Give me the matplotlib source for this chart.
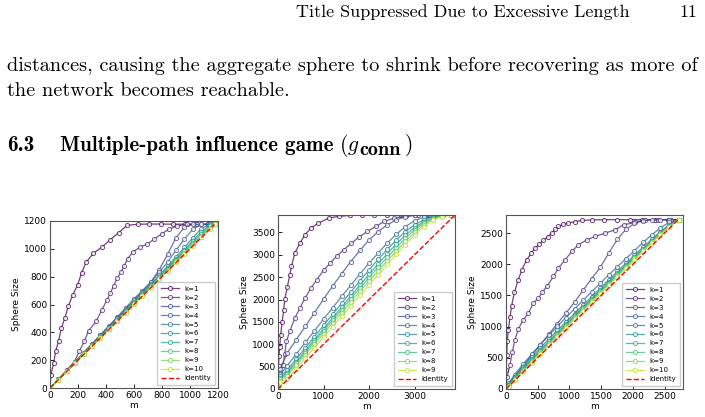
import matplotlib
matplotlib.use("Agg")
import matplotlib.pyplot as plt
import numpy as np

plt.rcParams['mathtext.fontset'] = 'cm'

# ---------------- data ----------------
# panel 1 (N ~ 1175)
p1_k1_m = [0, 7, 26, 40, 62, 81, 107, 131, 162, 197, 226, 257, 309, 368, 432, 492, 551, 630, 708, 796, 879, 962, 1046, 1129, 1170]
p1_k1_y = [0, 95, 179, 263, 341, 430, 506, 589, 668, 740, 828, 902, 967, 1010, 1067, 1117, 1169, 1177, 1178, 1178, 1177, 1177, 1177, 1177, 1177]
p1_k2_m = [0, 60, 120, 175, 210, 245, 275, 330, 370, 405, 430, 455, 480, 505, 530, 555, 590, 640, 695, 745, 800, 850, 905, 975, 1050, 1130, 1170]
p1_k2_y = [0, 62, 128, 190, 265, 335, 410, 480, 560, 630, 680, 735, 790, 830, 880, 930, 975, 1010, 1035, 1070, 1110, 1140, 1165, 1175, 1177, 1177, 1177]
p1_m = [0, 60, 120, 180, 240, 300, 360, 420, 480, 540, 600, 660, 720, 780, 840, 900, 960, 1020, 1080, 1140, 1175]
p1_k3 = [0, 63, 127, 190, 254, 318, 382, 446, 510, 575, 640, 700, 760, 850, 960, 1080, 1155, 1175, 1175, 1175, 1175]
p1_k4 = [0, 63, 126, 189, 252, 315, 378, 441, 504, 567, 630, 693, 760, 830, 905, 990, 1070, 1140, 1175, 1175, 1175]
p1_k5 = [0, 62, 124, 186, 248, 310, 372, 434, 496, 558, 620, 683, 746, 810, 875, 942, 1010, 1080, 1145, 1175, 1175]
p1_k6 = [0, 61, 123, 184, 246, 307, 369, 430, 492, 553, 615, 677, 739, 801, 864, 928, 993, 1058, 1122, 1170, 1175]
p1_k7 = [0, 61, 122, 183, 244, 305, 366, 427, 488, 549, 610, 671, 733, 795, 857, 919, 981, 1044, 1106, 1163, 1175]
p1_k8 = [0, 61, 121, 182, 242, 303, 363, 424, 485, 545, 606, 666, 727, 788, 849, 910, 971, 1032, 1093, 1153, 1175]
p1_k9 = [0, 60, 121, 181, 241, 302, 362, 422, 482, 543, 603, 663, 724, 784, 844, 905, 965, 1025, 1086, 1146, 1175]
p1_k10 = [0, 60, 120, 181, 241, 301, 361, 421, 481, 541, 601, 661, 722, 782, 842, 902, 962, 1022, 1082, 1142, 1175]
p1_N = 1175

# panel 2 (N ~ 3890)
p2_k1_m = [0, 5, 12, 22, 37, 59, 89, 126, 150, 207, 259, 296, 370, 481, 593, 726, 889, 1111, 1333, 1593, 1852, 2100, 2400, 2700, 3000, 3300, 3600, 3890]
p2_k1_y = [0, 300, 520, 730, 950, 1210, 1490, 1770, 2010, 2290, 2550, 2740, 3040, 3260, 3450, 3600, 3710, 3820, 3860, 3880, 3890, 3890, 3890, 3890, 3890, 3890, 3890, 3890]
p2_k2_m = [0, 20, 50, 111, 148, 185, 259, 370, 481, 593, 726, 852, 1000, 1148, 1296, 1444, 1615, 1778, 1963, 2148, 2333, 2556, 2815, 3074, 3350, 3620, 3890]
p2_k2_y = [0, 200, 380, 543, 789, 1065, 1288, 1586, 1809, 2033, 2256, 2442, 2651, 2815, 2978, 3112, 3261, 3395, 3522, 3634, 3745, 3820, 3872, 3890, 3890, 3890, 3890]
p2_m = [0, 50, 200, 400, 600, 800, 1000, 1200, 1400, 1600, 1800, 2000, 2200, 2400, 2600, 2800, 3000, 3200, 3400, 3600, 3800, 3890]
p2_k3 = [0, 450, 800, 1100, 1400, 1700, 2010, 2300, 2580, 2850, 3100, 3330, 3520, 3670, 3780, 3850, 3880, 3890, 3890, 3890, 3890, 3890]
p2_k4 = [0, 330, 520, 780, 1040, 1300, 1560, 1815, 2070, 2320, 2570, 2810, 3040, 3260, 3460, 3630, 3760, 3840, 3880, 3890, 3890, 3890]
p2_k5 = [0, 280, 420, 670, 920, 1170, 1420, 1670, 1920, 2170, 2420, 2660, 2900, 3120, 3330, 3520, 3670, 3780, 3850, 3885, 3890, 3890]
p2_k6 = [0, 250, 368, 612, 856, 1100, 1344, 1588, 1832, 2076, 2320, 2560, 2795, 3020, 3240, 3440, 3610, 3740, 3830, 3875, 3890, 3890]
p2_k7 = [0, 220, 335, 575, 815, 1055, 1295, 1535, 1775, 2015, 2255, 2490, 2720, 2945, 3160, 3370, 3560, 3710, 3810, 3870, 3890, 3890]
p2_k8 = [0, 190, 293, 529, 765, 1001, 1237, 1473, 1709, 1945, 2180, 2410, 2640, 2865, 3085, 3300, 3500, 3670, 3790, 3860, 3890, 3890]
p2_k9 = [0, 150, 222, 456, 690, 924, 1158, 1392, 1626, 1860, 2094, 2325, 2555, 2785, 3010, 3230, 3440, 3630, 3770, 3855, 3890, 3890]
p2_N = 3890

# panel 3 (N ~ 2715)
p3_k1_m = [0, 5, 11, 21, 37, 63, 89, 132, 190, 250, 327, 400, 458, 520, 590, 655, 722, 780, 827, 900, 985, 1090, 1195, 1350, 1550, 1750, 1950, 2150, 2350, 2550, 2720]
p3_k1_y = [0, 300, 550, 764, 951, 1154, 1335, 1549, 1740, 1910, 2072, 2180, 2259, 2320, 2382, 2440, 2500, 2560, 2606, 2640, 2660, 2685, 2702, 2710, 2715, 2715, 2715, 2715, 2715, 2715, 2715]
p3_k2_m = [0, 20, 63, 100, 142, 195, 274, 353, 432, 510, 575, 643, 748, 827, 932, 1038, 1142, 1275, 1406, 1564, 1722, 1853, 2038, 2196, 2400, 2600, 2720]
p3_k2_y = [0, 200, 390, 600, 791, 962, 1111, 1218, 1378, 1458, 1550, 1644, 1804, 1939, 2072, 2205, 2313, 2393, 2446, 2500, 2553, 2633, 2670, 2713, 2715, 2715, 2715]
p3_m = [0, 40, 135, 270, 405, 540, 675, 810, 945, 1080, 1215, 1350, 1485, 1620, 1755, 1890, 2025, 2160, 2295, 2430, 2565, 2720]
p3_k3 = [0, 70, 200, 370, 540, 710, 880, 1050, 1220, 1390, 1585, 1770, 1950, 2180, 2400, 2560, 2655, 2698, 2713, 2715, 2715, 2715]
p3_k4 = [0, 90, 230, 400, 560, 710, 860, 1005, 1145, 1285, 1420, 1560, 1695, 1830, 1960, 2090, 2220, 2350, 2470, 2580, 2670, 2715]
p3_k5 = [0, 70, 200, 360, 510, 660, 800, 940, 1075, 1210, 1345, 1480, 1615, 1750, 1885, 2015, 2145, 2275, 2400, 2520, 2630, 2715]
p3_k6 = [0, 60, 180, 335, 480, 625, 765, 905, 1045, 1180, 1315, 1450, 1585, 1720, 1855, 1990, 2120, 2250, 2375, 2500, 2615, 2715]
p3_k7 = [0, 55, 170, 320, 465, 605, 745, 885, 1025, 1165, 1300, 1435, 1570, 1705, 1840, 1975, 2110, 2240, 2365, 2490, 2610, 2715]
p3_k8 = [0, 50, 160, 305, 450, 590, 730, 870, 1010, 1150, 1285, 1420, 1555, 1690, 1825, 1960, 2095, 2230, 2360, 2485, 2605, 2715]
p3_k9 = [0, 45, 150, 290, 435, 575, 715, 855, 995, 1135, 1270, 1405, 1540, 1675, 1812, 1948, 2083, 2218, 2350, 2480, 2600, 2715]
p3_k10 = [0, 40, 140, 280, 420, 560, 700, 840, 980, 1120, 1255, 1390, 1525, 1662, 1800, 1935, 2070, 2205, 2340, 2470, 2595, 2715]
p3_N = 2715

panels = [
    dict(series=[(p1_k1_m, p1_k1_y), (p1_k2_m, p1_k2_y)] + [(p1_m, s) for s in [p1_k3, p1_k4, p1_k5, p1_k6, p1_k7, p1_k8, p1_k9, p1_k10]],
         N=p1_N, lim=1200, xt=[0, 200, 400, 600, 800, 1000, 1200], yt=[0, 200, 400, 600, 800, 1000, 1200], idlabel='identity',
         pos=[50, 221, 168, 167]),
    dict(series=[(p2_k1_m, p2_k1_y), (p2_k2_m, p2_k2_y)] + [(p2_m, s) for s in [p2_k3, p2_k4, p2_k5, p2_k6, p2_k7, p2_k8, p2_k9]],
         N=p2_N, lim=3890, xt=[0, 1000, 2000, 3000], yt=[0, 500, 1000, 1500, 2000, 2500, 3000, 3500], idlabel='Identity',
         pos=[278, 215, 177, 174]),
    dict(series=[(p3_k1_m, p3_k1_y), (p3_k2_m, p3_k2_y)] + [(p3_m, s) for s in [p3_k3, p3_k4, p3_k5, p3_k6, p3_k7, p3_k8, p3_k9, p3_k10]],
         N=p3_N, lim=2790, xt=[0, 500, 1000, 1500, 2000, 2500], yt=[0, 500, 1000, 1500, 2000, 2500], idlabel='Identity',
         pos=[506, 215, 177, 174]),
]

W, H = 705, 417
fig = plt.figure(figsize=(W / 100, H / 100), dpi=100)

# ---------------- page text ----------------
fig.text(630 / W, 1 - 17 / H, 'Title Suppressed Due to Excessive Length', fontfamily='cmr10',
         fontsize=13, ha='right', va='baseline')
fig.text(697 / W, 1 - 17 / H, '11', fontfamily='cmr10', fontsize=13, ha='right', va='baseline')
fig.text(7 / W, 1 - 71 / H, 'distances, causing the aggregate sphere to shrink before recovering as more of',
         fontfamily='cmr10', fontsize=14.6, ha='left', va='baseline')
fig.text(7 / W, 1 - 96 / H, 'the network becomes reachable.', fontfamily='cmr10', fontsize=14.6,
         ha='left', va='baseline')
fig.text(7 / W, 1 - 151 / H, '6.3', fontfamily='cmb10', fontsize=15.5, ha='left', va='baseline')
fig.text(60 / W, 1 - 151 / H, 'Multiple-path influence game', fontfamily='cmb10', fontsize=15.2,
         ha='left', va='baseline')
# (g_conn) built from pieces
fig.text(340 / W, 1 - 151 / H, '(', fontfamily='cmr10', fontsize=15.5, ha='left', va='baseline')
fig.text(347 / W, 1 - 151 / H, r'$g$', fontsize=15.5, ha='left', va='baseline')
fig.text(359 / W, 1 - 155 / H, 'conn', fontfamily='cmb10', fontsize=14.5, ha='left', va='baseline')
fig.text(405 / W, 1 - 151 / H, ')', fontfamily='cmr10', fontsize=15.5, ha='left', va='baseline')

# ---------------- plots ----------------
for p in panels:
    x0, y0, w, h = p['pos']
    ax = fig.add_axes([x0 / W, 1 - (y0 + h) / H, w / W, h / H])
    K = len(p['series'])
    colors = plt.cm.viridis(np.linspace(0, 0.9, K))
    for i, (m, y) in enumerate(p['series']):
        ax.plot(m, y, '-o', color=colors[i], lw=0.9, ms=3, mfc='white', mew=0.7,
                alpha=0.75, label=f'k={i + 1}')
    ax.plot([0, p['N']], [0, p['N']], 'r--', lw=1, label=p['idlabel'])
    ax.set_xlim(0, p['lim'])
    ax.set_ylim(0, p['lim'])
    ax.set_xticks(p['xt'])
    ax.set_yticks(p['yt'])
    ax.tick_params(direction='in', length=3, width=0.6, labelsize=6.5, pad=2)
    ax.set_xlabel('m', fontsize=6.5, labelpad=1)
    ax.set_ylabel('Sphere Size', fontsize=6.5, labelpad=2)
    for s in ax.spines.values():
        s.set_linewidth(0.8)
        s.set_color('#555555')
    ax.legend(loc='lower right', fontsize=5, labelspacing=0.42, handlelength=2.6,
              borderpad=0.5, framealpha=1, edgecolor='#cccccc', fancybox=False)

fig.savefig('out.png', dpi=100)
